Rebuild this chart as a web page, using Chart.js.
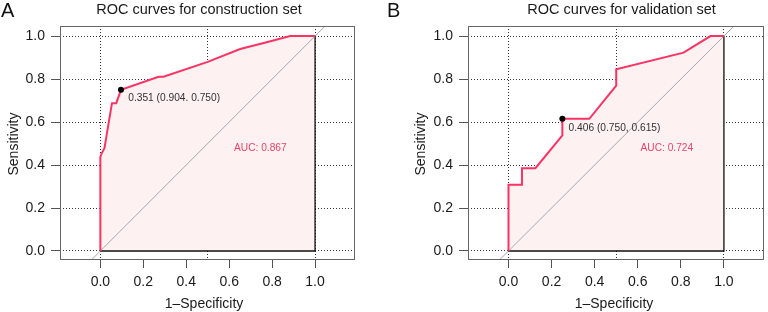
<!DOCTYPE html>
<html>
<head>
<meta charset="utf-8">
<script src="https://cdn.jsdelivr.net/npm/chart.js@4/dist/chart.umd.min.js"></script>
<style>
  html, body { margin: 0; padding: 0; background: #fff; }
  #wrap { position: relative; width: 768px; height: 312px; }
  canvas { position: absolute; top: 0; }
</style>
</head>
<body>
<div id="wrap">
  <canvas id="panelA" width="384" height="312" style="left:0"></canvas>
  <canvas id="panelB" width="384" height="312" style="left:384px"></canvas>
</div>
<script>
// axis ticks and grid
const xTicks = [0, 0.2, 0.4, 0.5, 0.6, 0.8, 1.0];
const xLabelled = [0, 0.2, 0.4, 0.6, 0.8, 1.0];
const xGrid = [0, 0.5, 1.0];
const yTicks = [0, 0.2, 0.4, 0.6, 0.8, 1.0];
const diagonal = [-0.3, 1.3];

// construction set ROC (1-specificity, sensitivity)
const constructionFpr = [0, 0, 0.005, 0.019, 0.054, 0.074, 0.096, 0.271, 0.294, 0.5, 0.651, 0.77, 0.884, 1.0];
const constructionTpr = [0, 0.438, 0.452, 0.478, 0.688, 0.688, 0.75, 0.811, 0.811, 0.88, 0.94, 0.97, 1.0, 1.0];
const constructionBest = [0.096, 0.75];
const constructionBestText = '0.351 (0.904. 0.750)';
const constructionAucText = 'AUC: 0.867';

// validation set ROC
const validationFpr = [0, 0, 0.0625, 0.0625, 0.125, 0.25, 0.25, 0.375, 0.5, 0.5, 0.8125, 0.9375, 1.0];
const validationTpr = [0, 0.308, 0.308, 0.385, 0.385, 0.538, 0.615, 0.615, 0.769, 0.846, 0.923, 1.0, 1.0];
const validationBest = [0.25, 0.615];
const validationBestText = '0.406 (0.750, 0.615)';
const validationAucText = 'AUC: 0.724';

const FONT = '"Liberation Sans", Arial, Helvetica, sans-serif';
const RED = '#f93465';

const toPoints = (xs, ys) => xs.map((v, i) => ({ x: v, y: ys[i] }));

// frame, titles and text labels
const decor = {
  id: 'decor',
  afterDraw(chart, args, o) {
    const { ctx, chartArea: a, scales: { x, y } } = chart;
    ctx.save();
    ctx.strokeStyle = '#666';
    ctx.lineWidth = 1;
    ctx.strokeRect(a.left + 0.5, a.top + 0.5, a.right - a.left - 1, a.bottom - a.top - 1);

    ctx.fillStyle = '#111';
    ctx.textBaseline = 'alphabetic';
    ctx.font = '20px ' + FONT;
    ctx.textAlign = 'left';
    ctx.fillText(o.letter, o.letterX, 17);

    ctx.fillStyle = '#1a1a1a';
    ctx.font = '14.5px ' + FONT;
    ctx.textAlign = 'center';
    ctx.fillText(o.title, o.titleX, 14);

    ctx.font = '14px ' + FONT;
    ctx.fillText('1\u2013Specificity', o.xTitleX, 308);
    ctx.save();
    ctx.translate(o.yTitleX, 144);
    ctx.rotate(-Math.PI / 2);
    ctx.fillText('Sensitivity', 0, 5);
    ctx.restore();

    ctx.font = '10.2px ' + FONT;
    ctx.textAlign = 'left';
    ctx.fillStyle = '#333';
    ctx.textBaseline = 'middle';
    ctx.fillText(o.bestText, x.getPixelForValue(o.bestAt[0]), y.getPixelForValue(o.bestAt[1]));
    ctx.textAlign = 'center';
    ctx.fillStyle = '#e8456c';
    ctx.fillText(o.aucText, x.getPixelForValue(o.aucAt[0]), y.getPixelForValue(o.aucAt[1]));
    ctx.restore();
  }
};

function makePanel(id, opt) {
  const roc = toPoints(opt.fpr, opt.tpr);
  const first = roc[0], last = roc[roc.length - 1];
  const outline = [{ x: first.x, y: first.y }, { x: last.x, y: first.y }, { x: last.x, y: last.y }];
  const diag = diagonal.map(v => ({ x: v, y: v }));

  new Chart(document.getElementById(id), {
    type: 'line',
    data: {
      datasets: [
        { data: [{ x: opt.best[0], y: opt.best[1] }], showLine: false, pointRadius: 3, pointBackgroundColor: '#000', pointBorderWidth: 0 },
        { data: roc, borderColor: RED, borderWidth: 2, pointRadius: 0, tension: 0, fill: false },
        { data: diag, borderColor: '#a8a8a8', borderWidth: 1, pointRadius: 0, fill: false },
        { data: outline, borderColor: '#111', borderWidth: 1.3, pointRadius: 0, fill: false },
        { data: roc, borderWidth: 0, pointRadius: 0, backgroundColor: '#fdf1f1', fill: 'origin' }
      ]
    },
    options: {
      responsive: false,
      animation: false,
      events: [],
      layout: { padding: { left: 0, top: 26, right: opt.padRight, bottom: 0 } },
      plugins: {
        legend: { display: false },
        tooltip: { enabled: false },
        decor: opt.decor
      },
      scales: {
        x: {
          type: 'linear',
          min: -0.188, max: 1.186,
          afterBuildTicks: s => { s.ticks = xTicks.map(v => ({ value: v })); },
          afterFit: s => { s.height = 52; },
          ticks: {
            autoSkip: false, maxRotation: 0, padding: 6,
            color: '#1a1a1a', font: { family: FONT, size: 14 },
            callback: v => xLabelled.includes(v) ? v.toFixed(1) : ''
          },
          grid: {
            color: c => (c.tick && xGrid.includes(c.tick.value)) ? '#333' : 'rgba(0,0,0,0)',
            tickColor: c => (c.tick && xLabelled.includes(c.tick.value)) ? '#555' : 'rgba(0,0,0,0)',
            tickLength: 8, lineWidth: 1
          },
          border: { display: false, dash: [1, 2] }
        },
        y: {
          type: 'linear',
          min: -0.042, max: 1.047,
          afterBuildTicks: s => { s.ticks = yTicks.map(v => ({ value: v })); },
          afterFit: s => { s.width = opt.yWidth; },
          ticks: {
            autoSkip: false, padding: 6,
            color: '#1a1a1a', font: { family: FONT, size: 14 },
            callback: v => v.toFixed(1)
          },
          grid: { color: '#333', tickColor: '#555', tickLength: 9, lineWidth: 1 },
          border: { display: false, dash: [1, 2] }
        }
      }
    },
    plugins: [decor]
  });
}

makePanel('panelA', {
  fpr: constructionFpr, tpr: constructionTpr, best: constructionBest,
  yWidth: 60, padRight: 29,
  decor: {
    letter: 'A', letterX: 1, title: 'ROC curves for construction set', titleX: 199,
    xTitleX: 204, yTitleX: 13,
    bestText: constructionBestText, bestAt: [0.13, 0.713],
    aucText: constructionAucText, aucAt: [0.745, 0.48]
  }
});

makePanel('panelB', {
  fpr: validationFpr, tpr: validationTpr, best: validationBest,
  yWidth: 84, padRight: 4,
  decor: {
    letter: 'B', letterX: 3, title: 'ROC curves for validation set', titleX: 237.6,
    xTitleX: 230, yTitleX: 36,
    bestText: validationBestText, bestAt: [0.279, 0.572],
    aucText: validationAucText, aucAt: [0.735, 0.478]
  }
});
</script>
</body>
</html>
